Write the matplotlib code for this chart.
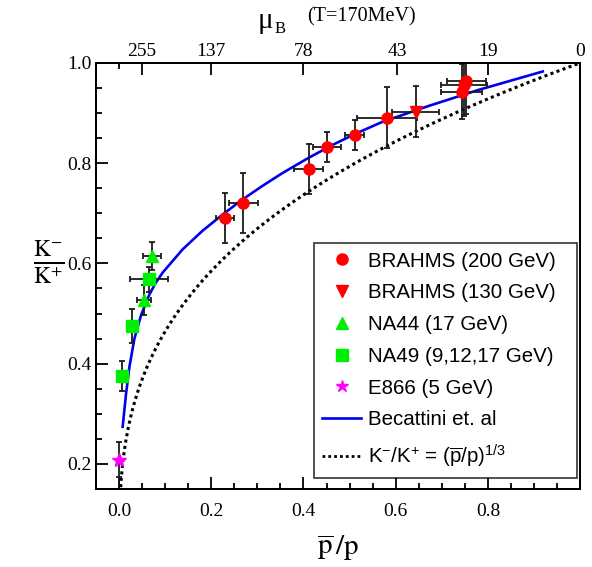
import numpy as np
import matplotlib
matplotlib.use("Agg")
import matplotlib.pyplot as plt
from matplotlib.lines import Line2D
from matplotlib.ticker import MultipleLocator

plt.rcParams['mathtext.fontset'] = 'custom'
plt.rcParams['mathtext.rm'] = 'Liberation Sans'
plt.rcParams['mathtext.it'] = 'Liberation Sans:italic'

# ---------------- data ----------------
# BRAHMS 200 GeV
b200_x = [0.230, 0.270, 0.411, 0.451, 0.511, 0.582, 0.743, 0.749, 0.753]
b200_y = [0.690, 0.720, 0.789, 0.833, 0.856, 0.891, 0.943, 0.955, 0.963]
b200_xe = [0.020, 0.032, 0.031, 0.031, 0.021, 0.065, 0.045, 0.050, 0.042]
b200_ye = [0.050, 0.060, 0.050, 0.030, 0.030, 0.060, 0.055, 0.060, 0.065]
# BRAHMS 130 GeV
b130_x = [0.643]
b130_y = [0.903]
b130_xe = [0.050]
b130_ye = [0.050]
# NA44 17 GeV
na44_x = [0.0536, 0.0717]
na44_y = [0.527, 0.615]
na44_xe = [0.015, 0.020]
na44_ye = [0.030, 0.028]
# NA49 9,12,17 GeV
na49_x = [0.007, 0.028, 0.066]
na49_y = [0.376, 0.476, 0.568]
na49_xe = [0.0, 0.0, 0.041]
na49_ye = [0.030, 0.034, 0.025]
# E866 5 GeV
e866_x = [0.0]
e866_y = [0.208]
e866_ye = [0.035]
# Becattini et al.
bec_x = [0.008, 0.0155, 0.0227, 0.0335, 0.048, 0.066, 0.0795, 0.095, 0.138,
         0.181, 0.224, 0.267, 0.310, 0.354, 0.408, 0.462, 0.516, 0.570,
         0.671, 0.779, 0.919]
bec_y = [0.274, 0.341, 0.394, 0.450, 0.497, 0.538, 0.561, 0.582, 0.628,
         0.665, 0.697, 0.727, 0.754, 0.780, 0.809, 0.836, 0.860, 0.882,
         0.914, 0.946, 0.983]
# K-/K+ = (pbar/p)^(1/3)
cube_x = np.linspace(0.0, 1.0, 400)
cube_y = cube_x ** (1.0 / 3.0)
# top axis: mu_B labels (T = 170 MeV)
muB_labels = [255, 137, 78, 43, 19, 0]
T_MeV = 170.0

# ---------------- figure ----------------
fig = plt.figure(figsize=(5.92, 5.67), dpi=100)
ax = fig.add_axes([0.162, 0.1376, 0.818, 0.7514])

ax.plot(cube_x, cube_y, color='black', lw=2.2, ls=(0, (1, 1.1)), zorder=2)
ax.plot(bec_x, bec_y, color='#0000ee', lw=1.9, zorder=2)

ekw = dict(ecolor='#1a1a1a', elinewidth=1.3, capsize=2.2, capthick=1.3, ls='none', zorder=3)
ax.errorbar(b200_x, b200_y, xerr=b200_xe, yerr=b200_ye, fmt='o', color='#ff0000',
            ms=8, mec='#ff0000', **ekw)
ax.errorbar(b130_x, b130_y, xerr=b130_xe, yerr=b130_ye, fmt='v', color='#ff0000',
            ms=8, mec='#ff0000', **ekw)
ax.errorbar(na44_x, na44_y, xerr=na44_xe, yerr=na44_ye, fmt='^', color='#00ee00',
            ms=8, mec='#00ee00', **ekw)
ax.errorbar(na49_x, na49_y, xerr=na49_xe, yerr=na49_ye, fmt='s', color='#00ee00',
            ms=8, mec='#00ee00', **ekw)
ax.errorbar(e866_x, e866_y, yerr=e866_ye, fmt='*', color='#ff00ff',
            ms=10, mec='#ff00ff', **ekw)

ax.set_xlim(-0.05, 1.0)
ax.set_ylim(0.15, 1.0)

ax.xaxis.set_minor_locator(MultipleLocator(0.05))
ax.yaxis.set_minor_locator(MultipleLocator(0.05))
ax.set_xticks([0.0, 0.2, 0.4, 0.6, 0.8])
ax.set_yticks([0.2, 0.4, 0.6, 0.8, 1.0])
ax.set_xticklabels(['0.0', '0.2', '0.4', '0.6', '0.8'])
ax.set_yticklabels(['0.2', '0.4', '0.6', '0.8', '1.0'])

serif = 'Liberation Serif'
ax.tick_params(which='both', direction='in', top=False, right=False, width=1.3)
ax.tick_params(which='major', length=8.5)
ax.tick_params(which='minor', length=4.5)
ax.tick_params(axis='x', pad=10)
ax.tick_params(axis='y', pad=3)
for lab in ax.get_xticklabels() + ax.get_yticklabels():
    lab.set_fontfamily(serif)
    lab.set_fontsize(14)
for s in ax.spines.values():
    s.set_linewidth(1.4)

# top axis
ax2 = ax.twiny()
ax2.set_xlim(ax.get_xlim())
top_pos = [np.exp(-2.0 * m / T_MeV) for m in muB_labels]
ax2.set_xticks(top_pos)
ax2.set_xticklabels([str(m) for m in muB_labels], fontfamily=serif, fontsize=14)
ax2.set_xticks([0.0], minor=True)
ax2.tick_params(which='both', direction='in', width=1.3, pad=2)
ax2.tick_params(which='major', length=8.5)
ax2.tick_params(which='minor', length=4.5)
for s in ax2.spines.values():
    s.set_linewidth(1.4)

# axis labels
ax.set_xlabel(r'$\overline{\mathrm{p}}\,/\mathrm{p}$', fontsize=21, math_fontfamily='stix', labelpad=9)
fig.text(0.082, 0.537, r'$\frac{\mathrm{K}^{-}}{\mathrm{K}^{+}}$', fontsize=24,
         math_fontfamily='stix', ha='center', va='center')
fig.text(0.435, 0.950, 'μ', fontsize=21, fontfamily=serif, ha='left', va='baseline')
fig.text(0.463, 0.942, 'B', fontsize=12, fontfamily=serif, ha='left', va='baseline')
fig.text(0.518, 0.962, '(T=170MeV)', fontsize=14.5, fontfamily=serif,
         ha='left', va='baseline')

# legend
handles = [
    Line2D([], [], ls='none', marker='o', color='#ff0000', ms=8),
    Line2D([], [], ls='none', marker='v', color='#ff0000', ms=8),
    Line2D([], [], ls='none', marker='^', color='#00ee00', ms=8),
    Line2D([], [], ls='none', marker='s', color='#00ee00', ms=8),
    Line2D([], [], ls='none', marker='*', color='#ff00ff', ms=9),
    Line2D([], [], color='#0000ee', lw=1.9),
    Line2D([], [], color='black', lw=2.0, ls=(0, (1, 1.1))),
]
labels = ['BRAHMS (200 GeV)', 'BRAHMS (130 GeV)', 'NA44 (17 GeV)',
          'NA49 (9,12,17 GeV)', 'E866 (5 GeV)', 'Becattini et. al',
          r'K$^{-}$/K$^{+}$ = ($\overline{\mathrm{p}}$/p)$^{1/3}$']
leg = ax.legend(handles, labels, loc='lower left', bbox_to_anchor=(0.450, 0.026, 0.543, 0.5),
                mode='expand', borderaxespad=0, frameon=True, fancybox=False,
                edgecolor='black', prop={'family': 'Liberation Sans', 'size': 14.8},
                handlelength=1.9, handletextpad=0.35, labelspacing=0.62,
                borderpad=0.4)
leg.get_frame().set_linewidth(1.2)
leg.set_zorder(5)

fig.savefig('out.png', dpi=100)
